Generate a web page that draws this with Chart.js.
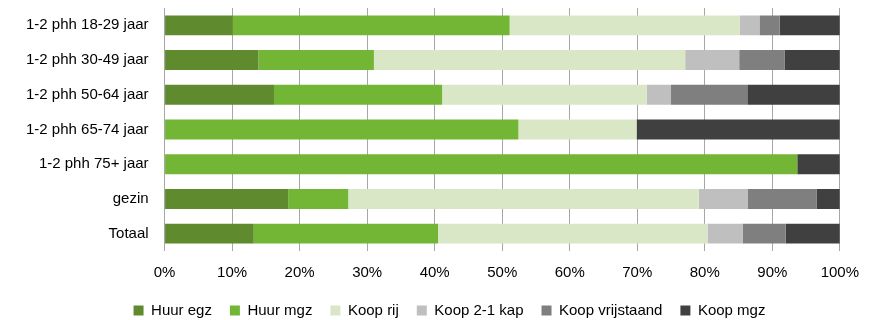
<!DOCTYPE html>
<html>
<head>
<meta charset="utf-8">
<script src="https://cdn.jsdelivr.net/npm/chart.js@4/dist/chart.umd.min.js"></script>
<style>
  html, body { margin: 0; padding: 0; background: #fff; }
  #wrap { width: 872px; height: 320px; }
</style>
</head>
<body>
<div id="wrap"><canvas id="chart"></canvas></div>
<script>
const categories = ["1-2 phh 18-29 jaar", "1-2 phh 30-49 jaar", "1-2 phh 50-64 jaar", "1-2 phh 65-74 jaar", "1-2 phh 75+ jaar", "gezin", "Totaal"];
const huurEgz        = [10.1, 13.9, 16.2, 0,    0,    18.3, 13.2];
const huurMgz        = [41.0, 17.1, 24.9, 52.4, 93.7, 8.9,  27.3];
const koopRij        = [34.1, 46.1, 30.3, 17.5, 0,    51.9, 39.9];
const koop21Kap      = [2.9,  8.0,  3.6,  0,    0,    7.3,  5.2];
const koopVrijstaand = [3.0,  6.7,  11.3, 0,    0,    10.2, 6.4];
const koopMgz        = [8.9,  8.2,  13.7, 30.1, 6.3,  3.4,  8.0];
const xTicks = [0, 10, 20, 30, 40, 50, 60, 70, 80, 90, 100];

const font = { family: "'Liberation Sans', Arial, sans-serif", size: 15 };

const series = [
  ["Huur egz", huurEgz, "#5f8a2d"],
  ["Huur mgz", huurMgz, "#73b636"],
  ["Koop rij", koopRij, "#d9e7c6"],
  ["Koop 2-1 kap", koop21Kap, "#bfbfbf"],
  ["Koop vrijstaand", koopVrijstaand, "#7f7f7f"],
  ["Koop mgz", koopMgz, "#404040"]
];

// nudge the legend a little to the right of the centre
const legendShift = {
  id: "legendShift",
  afterLayout(chart) {
    chart.legend.left += 16;
    chart.legend.right += 16;
  }
};

new Chart(document.getElementById("chart"), {
  type: "bar",
  data: {
    labels: categories,
    datasets: series.map(([label, data, color]) => ({
      label, data, backgroundColor: color, borderWidth: 0,
      barPercentage: 0.575, categoryPercentage: 1
    }))
  },
  options: {
    indexAxis: "y",
    responsive: true,
    maintainAspectRatio: false,
    animation: false,
    layout: { padding: { top: 8, right: 23, left: 18, bottom: -8 } },
    scales: {
      x: {
        stacked: true, min: 0, max: 100,
        afterBuildTicks: axis => { axis.ticks = xTicks.map(v => ({ value: v })); },
        afterFit: axis => { axis.height -= 10; },
        ticks: { color: "#000", font, padding: 13, callback: v => v + "%" },
        grid: { color: "#a6a6a6", drawTicks: false },
        border: { display: false }
      },
      y: {
        stacked: true,
        afterFit: axis => { axis.paddingTop = 0; axis.paddingBottom = 0; },
        ticks: { color: "#000", font, padding: 8 },
        grid: { display: false },
        border: { display: false }
      }
    },
    plugins: {
      legend: {
        position: "bottom",
        labels: { color: "#000", font, boxWidth: 10, boxHeight: 10, padding: 18 }
      },
      tooltip: { enabled: false }
    }
  },
  plugins: [legendShift]
});
</script>
</body>
</html>
